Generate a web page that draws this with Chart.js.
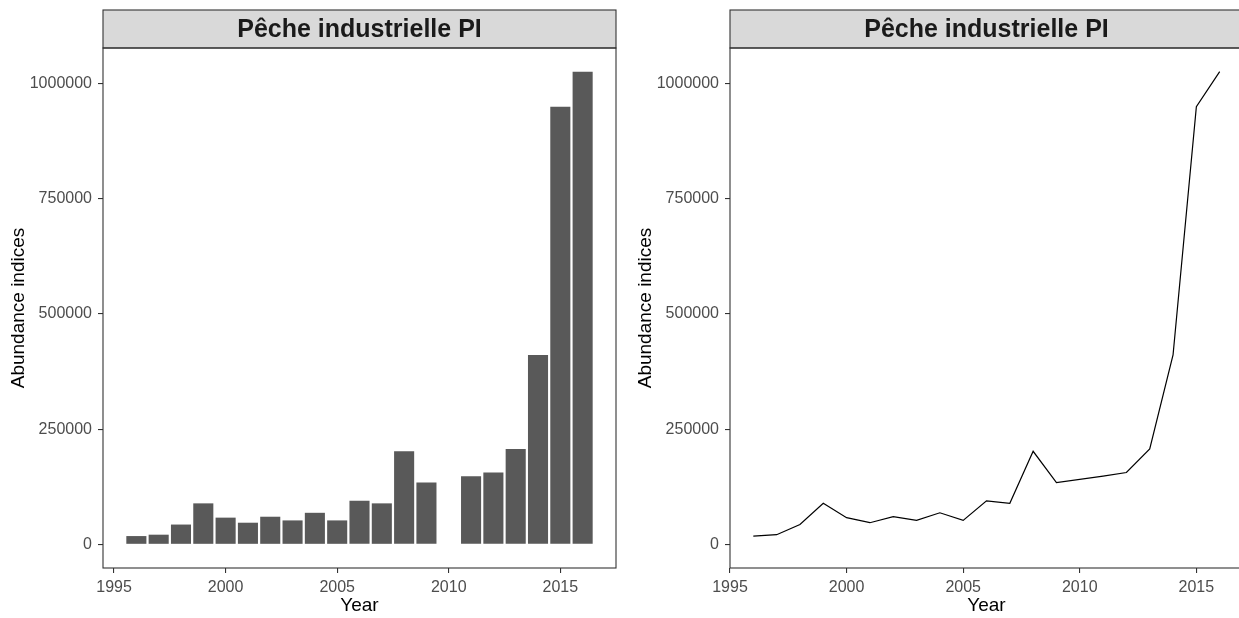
<!DOCTYPE html>
<html><head><meta charset="utf-8">
<script src="https://cdn.jsdelivr.net/npm/chart.js@4/dist/chart.umd.min.js"></script>
<style>
html,body{margin:0;padding:0;background:#fff;overflow:hidden;width:1239px;height:618px;}
#wrap{position:relative;width:1239px;height:618px;overflow:hidden;background:#fff;}
canvas{position:absolute;top:0;}
#c1{left:0px;}
#c2{left:627px;}
</style></head><body>
<div id="wrap"><canvas id="c1" width="620" height="618"></canvas><canvas id="c2" width="620" height="618"></canvas></div>
<script>
// ---- data ----
const years = [1996,1997,1998,1999,2000,2001,2002,2003,2004,2005,2006,2007,2008,2009,2011,2012,2013,2014,2015,2016];
const abundance = [18000,21000,43000,89000,58000,47000,60000,52000,68500,52000,94500,89000,202000,134000,148000,156000,207000,411000,950000,1026000];
const xTickValues = [1995,2000,2005,2010,2015];
const yTickValues = [0,250000,500000,750000,1000000];
const panelTitle = "Pêche industrielle PI";
const xAxisTitle = "Year";
const yAxisTitle = "Abundance indices";

const FONT = "'Liberation Sans', Arial, sans-serif";
const maxV = Math.max(...abundance);
const yMin = -0.05 * maxV, yMax = 1.05 * maxV;

const stripPlugin = {
  id: 'strip',
  beforeDraw(chart) {
    const {ctx, chartArea} = chart;
    ctx.save();
    ctx.fillStyle = '#D9D9D9';
    ctx.fillRect(chartArea.left, 10, chartArea.right - chartArea.left, chartArea.top - 10);
    ctx.strokeStyle = '#333333';
    ctx.lineWidth = 1.1;
    ctx.strokeRect(chartArea.left, 10, chartArea.right - chartArea.left, chartArea.top - 10);
    ctx.restore();
  },
  afterDatasetsDraw(chart) {
    const {ctx, chartArea} = chart;
    ctx.save();
    ctx.strokeStyle = '#333333';
    ctx.lineWidth = 1.1;
    ctx.strokeRect(chartArea.left, chartArea.top, chartArea.right - chartArea.left, chartArea.bottom - chartArea.top);
    ctx.restore();
  }
};

function makeOptions(xMin, xMax) {
  return {
    responsive: false,
    animation: false,
    events: [],
    layout: {padding: {top: 10, right: 4, bottom: 0, left: 0}},
    plugins: {
      legend: {display: false},
      tooltip: {enabled: false},
      title: {
        display: true, text: panelTitle, fullSize: false, color: '#1A1A1A',
        font: {family: FONT, size: 25, weight: 'bold', lineHeight: 1.2},
        padding: {top: 5.0, bottom: 3.0}
      }
    },
    scales: {
      x: {
        type: 'linear', min: xMin, max: xMax, offset: false,
        afterBuildTicks: s => { s.ticks = xTickValues.map(v => ({value: v})); },
        afterFit: s => { s.height = 50; },
        border: {display: false},
        grid: {drawOnChartArea: false, drawTicks: true, tickLength: 5, color: '#333333', lineWidth: 1.1, offset: false},
        ticks: {color: '#4D4D4D', font: {family: FONT, size: 16}, padding: 4.5, maxRotation: 0, autoSkip: false, callback: v => String(v)},
        title: {display: true, text: xAxisTitle, color: '#000000', font: {family: FONT, size: 19}, padding: {top: 0, bottom: 0.5}}
      },
      y: {
        type: 'linear', min: yMin, max: yMax,
        afterBuildTicks: s => { s.ticks = yTickValues.map(v => ({value: v})); },
        afterFit: s => { s.width = 103; },
        border: {display: false},
        grid: {drawOnChartArea: false, drawTicks: true, tickLength: 5, color: '#333333', lineWidth: 1.1},
        ticks: {color: '#4D4D4D', font: {family: FONT, size: 16}, padding: 6, autoSkip: false, callback: v => String(v)},
        title: {display: true, text: yAxisTitle, color: '#000000', font: {family: FONT, size: 19}, padding: {top: 7.3, bottom: 0}}
      }
    }
  };
}

const points = years.map((yr, i) => ({x: yr, y: abundance[i]}));

// bar panel: ggplot-like expansion of bar extent (width 0.9)
const bLo = Math.min(...years) - 0.45, bHi = Math.max(...years) + 0.45;
const bPad = 0.05 * (bHi - bLo);
new Chart(document.getElementById('c1'), {
  type: 'bar',
  data: {datasets: [{data: points, backgroundColor: '#595959', borderWidth: 0, barPercentage: 0.9, categoryPercentage: 1.0}]},
  options: makeOptions(bLo - bPad, bHi + bPad),
  plugins: [stripPlugin]
});

// line panel
const lLo = Math.min(...years), lHi = Math.max(...years);
const lPad = 0.05 * (lHi - lLo);
new Chart(document.getElementById('c2'), {
  type: 'line',
  data: {datasets: [{data: points, borderColor: '#000000', borderWidth: 1.2, pointRadius: 0, tension: 0, fill: false}]},
  options: makeOptions(lLo - lPad, lHi + lPad),
  plugins: [stripPlugin]
});
</script>
</body></html>
